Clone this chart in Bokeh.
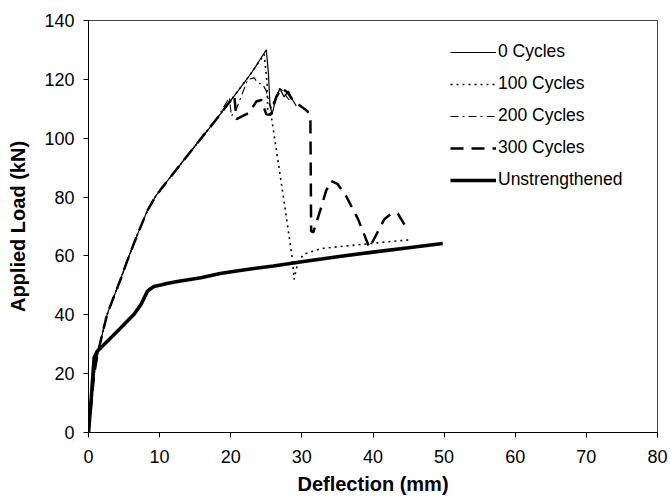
from bokeh.plotting import figure
from bokeh.models import Range1d, Legend, LegendItem, FixedTicker
from bokeh.embed import file_html
from bokeh.resources import INLINE

# ---- data ----
x_0c = [0, 0.4, 0.8, 1.3, 2.0, 2.6, 3.3, 4.5, 5.7, 7.0, 8.3, 9.5, 10.7, 14.4, 18.0, 21.0, 23.0, 25.0,
        25.3, 25.5, 25.8, 26.3, 26.9, 27.5, 28.1, 28.7, 29.2]
y_0c = [0, 10, 20, 27, 34, 40, 44.5, 52, 60, 68, 75.5, 80.5, 84.3, 95.6, 106.5, 116, 122.5, 130,
        122, 112, 108, 113, 117, 114, 116, 113, 111]

x_100c = [0, 0.4, 0.8, 1.3, 2.0, 2.6, 3.3, 4.5, 5.7, 7.0, 8.3, 9.5, 10.7, 14.4, 18.0, 21.0, 23.0, 24.7,
          25.1, 25.2, 25.7, 27.5, 28.7, 28.9, 29.4, 30.2, 32.7, 34.6, 38.8, 42.0, 45.3]
y_100c = [0, 10, 20, 27, 34, 40, 44.5, 52, 60, 68, 75.5, 80.5, 84.3, 95.6, 106.5, 116, 122.5, 128.5,
          119, 109, 107.5, 78.5, 58.3, 52, 57.5, 60.5, 62.5, 63, 64, 64.8, 65.5]

x_200c = [0, 0.4, 0.8, 1.3, 2.0, 2.6, 3.3, 4.5, 5.7, 7.0, 8.3, 9.5, 10.7, 14.4, 18.0, 19.8,
          20.1, 20.8, 21.6, 22.4, 23.3, 23.8, 24.5, 25.0, 25.6, 26.3, 27.0, 27.6, 28.2]
y_200c = [0, 10, 20, 27, 34, 40, 44.5, 52, 60, 68, 75.5, 80.5, 84.3, 95.6, 106.5, 113.8,
          107.5, 110, 115, 120, 120.5, 118.8, 118.3, 116, 110, 114, 117, 115, 113]

x_300c = [0, 0.4, 0.8, 1.3, 2.0, 2.6, 3.3, 4.5, 5.7, 7.0, 8.3, 9.5, 10.7, 14.4, 18.0, 20.5,
          20.8, 22.6, 23.6, 24.3, 25.0, 25.6, 26.4, 27.2, 28.0, 28.7, 29.5, 30.8, 31.2,
          31.3, 31.6, 32.7, 33.4, 34.1, 35.0, 36.2, 37.9, 39.5, 40.3, 41.6, 42.6, 43.5, 44.8]
y_300c = [0, 10, 20, 27, 34, 40, 44.5, 52, 60, 68, 75.5, 80.5, 84.3, 95.6, 106.5, 114.5,
          106.5, 108.7, 112.5, 113, 108.1, 108, 114, 117, 115.5, 113, 111.5, 109.2, 106,
          68.5, 68, 76.4, 82.1, 85.5, 84.5, 80.4, 72.5, 62.8, 66.5, 72.5, 74.4, 74.4, 69.1]

x_un = [0, 0.4, 0.8, 1.2, 1.8, 4.1, 5.3, 6.4, 7.4, 8.3, 9.2, 10.3, 11.0, 12.5, 15.8, 18.5,
        22, 26, 30, 35, 40, 45, 49.8]
y_un = [0, 12, 25.5, 27.5, 29, 34.5, 37.5, 40.2, 43.6, 48.1, 49.6, 50.2, 50.6, 51.3, 52.6, 54,
        55.3, 56.6, 58, 59.7, 61.3, 62.8, 64.2]

x_ticks = [0, 10, 20, 30, 40, 50, 60, 70, 80]
y_ticks = [0, 20, 40, 60, 80, 100, 120, 140]

FONT = "Liberation Sans"

p = figure(width=670, height=501, output_backend="svg", toolbar_location=None,
           x_range=Range1d(0, 80), y_range=Range1d(0, 140),
           min_border_left=88, min_border_right=13, min_border_top=20, min_border_bottom=69)

p.xgrid.visible = False
p.ygrid.visible = False
p.outline_line_color = "#444444"
p.outline_line_width = 1

r_un = p.line(x_un, y_un, line_color="black", line_width=3.6)
r0 = p.line(x_0c, y_0c, line_color="black", line_width=1.2)
r1 = p.line(x_100c, y_100c, line_color="black", line_width=1.6, line_dash="2 4")
r2 = p.line(x_200c, y_200c, line_color="black", line_width=1.1, line_dash="8 4 2 4")
r3 = p.line(x_300c, y_300c, line_color="black", line_width=2.5, line_dash="13 8")

for ax in (p.xaxis[0], p.yaxis[0]):
    ax.axis_line_color = "black"
    ax.major_tick_line_color = "black"
    ax.minor_tick_line_color = None
    ax.major_tick_in = 0
    ax.major_tick_out = 5
    ax.major_label_text_font = FONT
    ax.major_label_text_font_size = "18px"
    ax.major_label_text_color = "black"
    ax.axis_label_text_font = FONT
    ax.axis_label_text_font_size = "20px"
    ax.axis_label_text_font_style = "bold"
    ax.axis_label_text_color = "black"

p.xaxis.ticker = FixedTicker(ticks=x_ticks)
p.yaxis.ticker = FixedTicker(ticks=y_ticks)
p.xaxis.axis_label = "Deflection (mm)"
p.yaxis.axis_label = "Applied Load (kN)"
p.xaxis.major_label_standoff = 12
p.yaxis.major_label_standoff = 9
p.xaxis.axis_label_standoff = 7
p.yaxis.axis_label_standoff = 12

legend = Legend(items=[
    LegendItem(label="0 Cycles", renderers=[r0]),
    LegendItem(label="100 Cycles", renderers=[r1]),
    LegendItem(label="200 Cycles", renderers=[r2]),
    LegendItem(label="300 Cycles", renderers=[r3]),
    LegendItem(label="Unstrengthened", renderers=[r_un]),
], location=(362, 242))
legend.label_text_font = FONT
legend.label_text_font_size = "17.5px"
legend.label_text_color = "black"
legend.glyph_width = 46
legend.glyph_height = 20
legend.label_height = 20
legend.spacing = 11
legend.padding = 0
legend.margin = 0
legend.label_standoff = 2
legend.border_line_alpha = 0
legend.background_fill_alpha = 0
p.add_layout(legend)

open("out.html", "w").write(file_html(p, INLINE))
